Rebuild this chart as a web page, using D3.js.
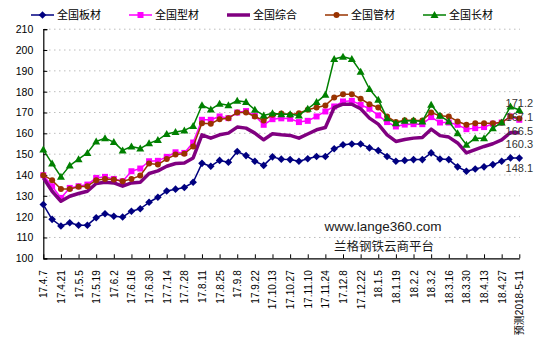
<!DOCTYPE html>
<html><head><meta charset="utf-8">
<script src="https://cdn.jsdelivr.net/npm/d3@7"></script>
<style>
html,body{margin:0;padding:0;background:#fff;}
svg{display:block;}
</style></head>
<body>
<svg id="chart" width="550" height="346"></svg>
<script>
const categories = ["17.4.7","17.4.14","17.4.21","17.4.28","17.5.5","17.5.12","17.5.19","17.5.26","17.6.2","17.6.9",
"17.6.16","17.6.23","17.6.30","17.7.7","17.7.14","17.7.21","17.7.28","17.8.4","17.8.11","17.8.18",
"17.8.25","17.9.1","17.9.8","17.9.15","17.9.22","17.9.29","17.10.13","17.10.20","17.10.27","17.11.3",
"17.11.10","17.11.17","17.11.24","17.12.1","17.12.8","17.12.15","17.12.22","17.12.29","18.1.5","18.1.12",
"18.1.19","18.1.26","18.2.2","18.2.9","18.3.2","18.3.9","18.3.16","18.3.23","18.3.30","18.4.6",
"18.4.13","18.4.20","18.4.27","18.5.4","预测2018-5-11"];

const plate = [125.8,118.7,115.5,117.1,115.9,115.9,119.5,121.4,120.2,119.8,
122.6,123.8,126.9,129.3,132.3,133.2,134.0,136.5,145.6,144.2,
147.0,146.1,151.3,149.3,146.6,144.6,148.7,147.6,147.4,146.6,
147.8,148.9,148.9,152.6,154.5,154.9,154.9,153.0,151.7,148.9,
146.6,147.0,147.4,147.4,150.6,147.7,147.4,143.9,141.8,142.9,
143.9,145.0,146.6,148.2,148.1];

const section = [139.9,134.6,129.0,133.8,134.6,135.4,138.6,139.1,138.1,137.0,
141.8,143.1,146.6,146.8,148.7,150.9,150.6,155.6,166.5,166.5,
168.1,167.3,170.0,170.7,168.4,164.1,166.8,167.2,167.0,165.4,
166.0,168.1,170.5,172.9,175.3,175.6,173.7,171.8,168.6,165.4,
163.3,164.2,164.4,164.4,167.8,165.2,165.2,164.1,162.0,162.5,
163.0,164.6,165.2,168.1,166.5];

const composite = [138.6,132.2,127.4,129.8,131.1,132.2,135.9,136.5,136.2,134.6,
136.2,136.5,140.7,142.0,144.2,145.5,145.8,148.2,159.3,157.7,
159.3,160.1,163.0,162.5,160.1,156.9,159.8,159.3,159.0,157.7,
159.7,161.7,162.8,172.4,174.0,174.0,171.8,167.3,164.4,159.3,
156.1,157.0,157.7,158.0,162.0,158.9,158.2,155.4,150.6,152.2,
153.7,155.0,156.9,160.4,160.3];

const pipe = [139.9,137.5,133.3,133.3,134.3,134.6,137.5,138.1,137.8,137.0,
138.1,139.7,145.5,145.0,147.7,149.8,150.2,153.7,164.9,164.6,
166.8,167.3,170.0,170.0,168.1,166.2,168.9,169.5,168.9,169.7,
171.3,172.4,173.4,177.2,178.8,178.8,176.6,174.0,172.4,168.1,
165.4,166.3,166.2,166.2,170.0,168.4,168.1,165.7,164.1,164.9,
164.9,164.9,165.2,168.1,167.1];

const longp = [152.2,145.5,139.2,144.5,147.6,150.6,156.1,157.7,155.8,151.8,
153.7,152.7,155.2,156.8,159.7,160.6,161.4,163.5,173.5,171.5,
174.2,173.5,175.7,175.0,171.3,168.6,169.7,169.2,169.2,168.6,
171.8,175.0,178.5,195.7,196.8,195.7,189.6,181.3,176.1,167.3,
164.9,166.1,166.2,165.7,173.7,168.4,165.7,160.1,154.5,157.7,
157.7,162.5,165.2,172.9,171.2];

const seriesNames = ["全国板材","全国型材","全国综合","全国管材","全国长材"];
const yTicks = [100,110,120,130,140,150,160,170,180,190,200,210];
const watermark = ["www.lange360.com","兰格钢铁云商平台"];

// styles
const styles = [
  {color:"#000080", width:1.5, marker:"diamond", labelDy:10},
  {color:"#FF00FF", width:1.5, marker:"square", labelDy:11},
  {color:"#800080", width:3.5, marker:null, labelDy:11.5},
  {color:"#993300", width:1.5, marker:"circle", labelDy:-1.5},
  {color:"#008000", width:1.5, marker:"triangle", labelDy:-6.5}
];
const seriesData = [plate, section, composite, pipe, longp];

const markerPath = {
  diamond: "M0,-3.8L3.8,0L0,3.8L-3.8,0Z",
  square: "M-3,-3H3V3H-3Z",
  circle: "M3,0A3,3 0 1,1 -3,0A3,3 0 1,1 3,0Z",
  triangle: "M0,-4L4,3L-4,3Z"
};

const svg = d3.select("#chart");
const x = d3.scalePoint().domain(categories).range([43.3, 519.3]);
const y = d3.scaleLinear().domain([100, 210]).range([258.3, 29.2]);

// gridlines
svg.append("g").selectAll("line").data(yTicks.slice(1)).join("line")
  .attr("x1", 44).attr("x2", 520)
  .attr("y1", d => y(d)).attr("y2", d => y(d))
  .attr("stroke", "#bdbdbd").attr("stroke-width", 1)
  .attr("stroke-dasharray", "1.5,3.5");

// y axis
const yAxis = d3.axisLeft(y).tickValues(yTicks).tickSize(-4).tickPadding(10).tickFormat(d3.format("d"));
const gy = svg.append("g").attr("transform", "translate(43.3,0)").call(yAxis);
gy.select(".domain").attr("stroke", "#000").attr("stroke-width", 1.2);
gy.selectAll(".tick line").attr("stroke", "#000");
gy.selectAll("text").attr("font-family", "Liberation Sans, Arial, sans-serif").attr("font-size", "10.5px").attr("fill", "#000");

// x axis
const evenCats = categories.filter((d, i) => i % 2 === 0);
const xAxis = d3.axisBottom(x).tickValues(evenCats).tickSize(-4).tickSizeOuter(0);
const gx = svg.append("g").attr("transform", "translate(0,258.3)").call(xAxis);
gx.select(".domain").attr("stroke", "#000").attr("stroke-width", 1.2);
gx.selectAll(".tick line").attr("stroke", "#000");
gx.selectAll("text")
  .attr("font-family", "Liberation Sans, Arial, 'Noto Sans CJK SC', sans-serif")
  .attr("font-size", "10px").attr("fill", "#000")
  .attr("text-anchor", "end")
  .attr("transform", "translate(0,12) rotate(-90)")
  .attr("x", 0).attr("y", 0).attr("dy", "0.35em");

// series
const line = d3.line().x((d, i) => x(categories[i])).y(d => y(d));
seriesData.forEach((data, k) => {
  const st = styles[k];
  const g = svg.append("g");
  g.append("path").datum(data).attr("d", line)
    .attr("fill", "none").attr("stroke", st.color).attr("stroke-width", st.width)
    .attr("stroke-linejoin", "round");
  if (st.marker) {
    g.selectAll("path.m").data(data).join("path").attr("class", "m")
      .attr("d", markerPath[st.marker])
      .attr("transform", (d, i) => `translate(${x(categories[i])},${y(d)})`)
      .attr("fill", st.color);
  }
});

// end value labels
seriesData.forEach((data, k) => {
  const last = data.length - 1;
  svg.append("text")
    .attr("x", x(categories[last]))
    .attr("y", y(data[last]) + styles[k].labelDy)
    .attr("dy", "0.35em")
    .attr("text-anchor", "middle")
    .attr("font-family", "Liberation Sans, Arial, sans-serif")
    .attr("font-size", "11px").attr("fill", "#333")
    .text(d3.format(".1f")(data[last]));
});

// legend
const lg = svg.append("g");
seriesNames.forEach((name, k) => {
  const st = styles[k];
  const x0 = 31 + 98 * k;
  lg.append("line").attr("x1", x0).attr("x2", x0 + 23).attr("y1", 15).attr("y2", 15)
    .attr("stroke", st.color).attr("stroke-width", st.width);
  if (st.marker) {
    lg.append("path").attr("d", markerPath[st.marker])
      .attr("transform", `translate(${x0 + 11.5},15)`).attr("fill", st.color);
  }
  lg.append("text").attr("x", x0 + 26).attr("y", 15).attr("dy", "0.35em")
    .attr("font-family", "'Noto Sans CJK SC', sans-serif").attr("font-size", "11px")
    .attr("fill", "#000").text(name);
});

// watermark
svg.append("text").attr("x", 383).attr("y", 226).attr("dy", "0.35em")
  .attr("text-anchor", "middle").attr("font-family", "Liberation Sans, Arial, sans-serif")
  .attr("font-size", "13.5px").attr("fill", "#1a1a1a").text(watermark[0]);
svg.append("text").attr("x", 384).attr("y", 246.5).attr("dy", "0.35em")
  .attr("text-anchor", "middle").attr("font-family", "'Noto Sans CJK SC', sans-serif")
  .attr("font-size", "12.5px").attr("fill", "#1a1a1a").text(watermark[1]);
</script>
</body></html>
